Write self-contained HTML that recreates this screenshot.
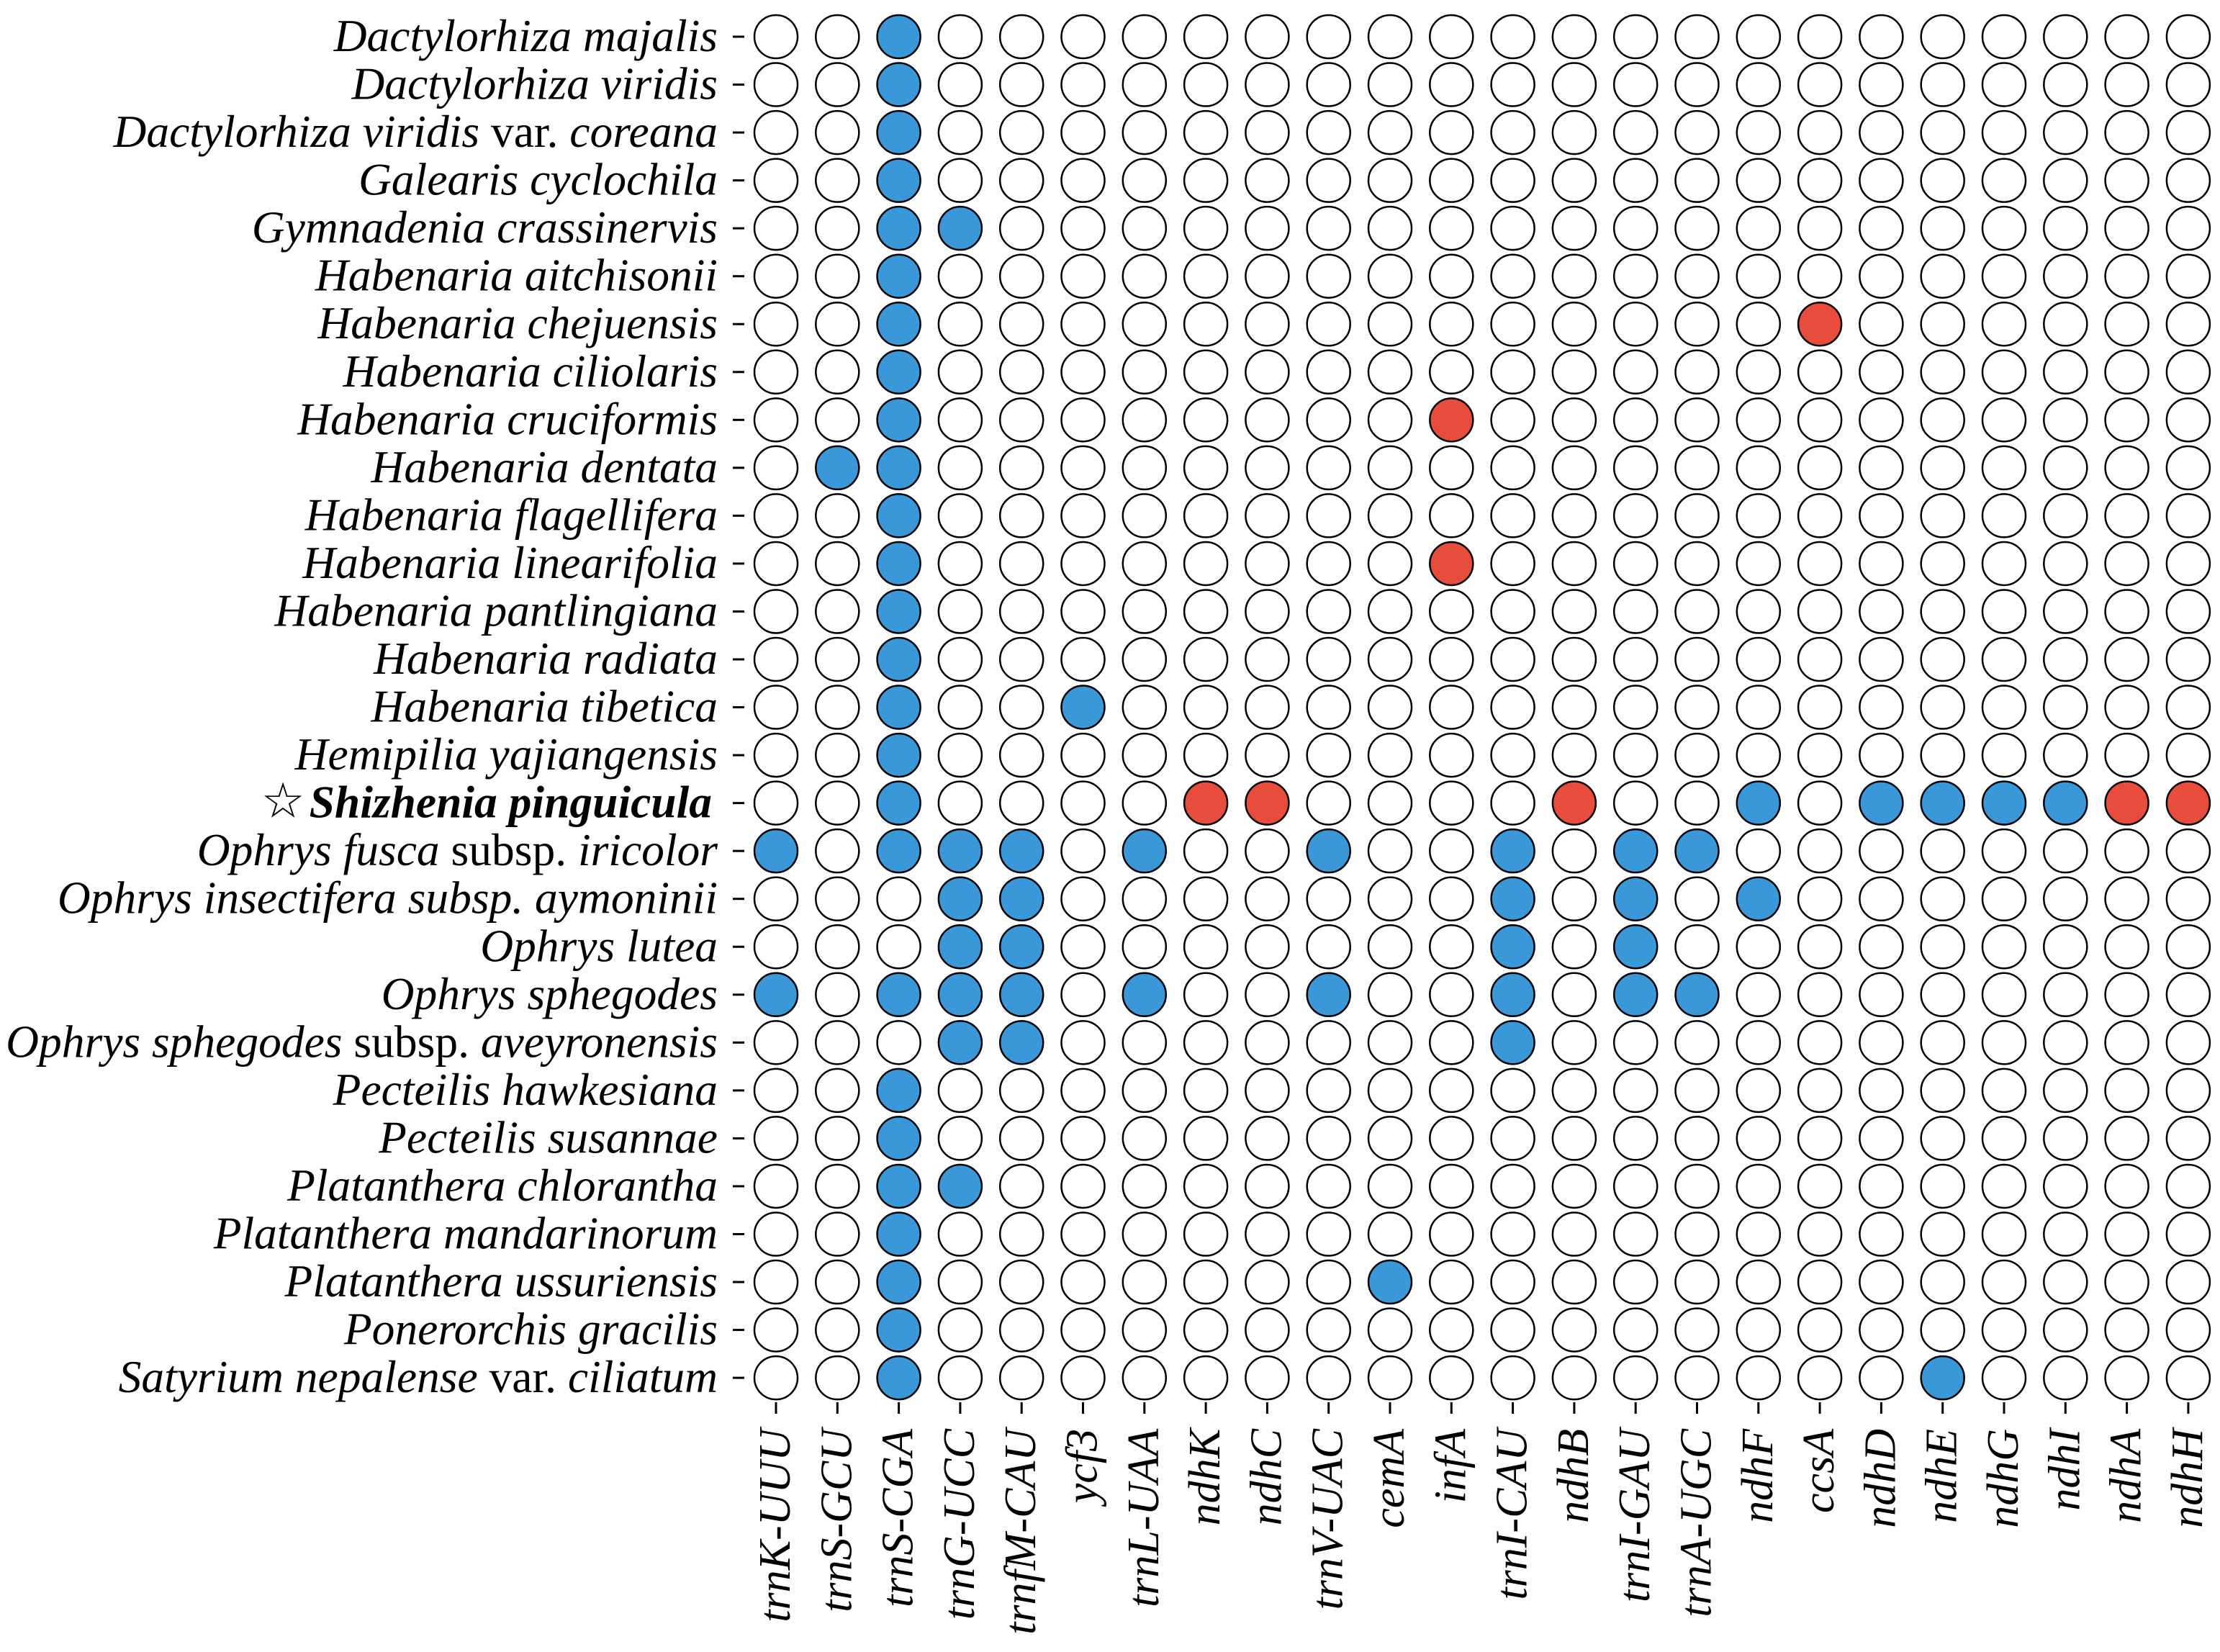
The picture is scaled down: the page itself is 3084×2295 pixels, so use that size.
<!DOCTYPE html>
<html><head><meta charset="utf-8"><style>
html,body{margin:0;padding:0;background:#fff;}
svg{display:block;font-family:"Liberation Serif","DejaVu Serif",serif;}
</style></head><body>
<svg id="chart" width="3084" height="2295" viewBox="0 0 3084 2295" xmlns="http://www.w3.org/2000/svg"></svg>
<script>
const genes = ["trnK-UUU","trnS-GCU","trnS-CGA","trnG-UCC","trnfM-CAU","ycf3","trnL-UAA","ndhK","ndhC","trnV-UAC","cemA","infA","trnI-CAU","ndhB","trnI-GAU","trnA-UGC","ndhF","ccsA","ndhD","ndhE","ndhG","ndhI","ndhA","ndhH"];
const species = [
 [["Dactylorhiza majalis",1]],
 [["Dactylorhiza viridis",1]],
 [["Dactylorhiza viridis",1],[" var. ",0],["coreana",1]],
 [["Galearis cyclochila",1]],
 [["Gymnadenia crassinervis",1]],
 [["Habenaria aitchisonii",1]],
 [["Habenaria chejuensis",1]],
 [["Habenaria ciliolaris",1]],
 [["Habenaria cruciformis",1]],
 [["Habenaria dentata",1]],
 [["Habenaria flagellifera",1]],
 [["Habenaria linearifolia",1]],
 [["Habenaria pantlingiana",1]],
 [["Habenaria radiata",1]],
 [["Habenaria tibetica",1]],
 [["Hemipilia yajiangensis",1]],
 [["☆",2],["Shizhenia pinguicula",3]],
 [["Ophrys fusca",1],[" subsp. ",0],["iricolor",1]],
 [["Ophrys insectifera subsp. aymoninii",1]],
 [["Ophrys lutea",1]],
 [["Ophrys sphegodes",1]],
 [["Ophrys sphegodes",1],["  subsp. ",0],["aveyronensis",1]],
 [["Pecteilis hawkesiana",1]],
 [["Pecteilis susannae",1]],
 [["Platanthera chlorantha",1]],
 [["Platanthera mandarinorum",1]],
 [["Platanthera ussuriensis",1]],
 [["Ponerorchis gracilis",1]],
 [["Satyrium nepalense",1],[" var. ",0],["ciliatum",1]]
];
// status per row, one char per gene: . = none, B = blue, R = red
const status = [
 "..B.....................",
 "..B.....................",
 "..B.....................",
 "..B.....................",
 "..BB....................",
 "..B.....................",
 "..B..............R......",
 "..B.....................",
 "..B........R............",
 ".BB.....................",
 "..B.....................",
 "..B........R............",
 "..B.....................",
 "..B.....................",
 "..B..B..................",
 "..B.....................",
 "..B....RR....R..B.BBBBRR",
 "B.BBB.B..B..B.BB........",
 "...BB.......B.B.B.......",
 "...BB.......B.B.........",
 "B.BBB.B..B..B.BB........",
 "...BB.......B...........",
 "..B.....................",
 "..B.....................",
 "..BB....................",
 "..B.....................",
 "..B.......B.............",
 "..B.....................",
 "..B................B...."
];
const NS="http://www.w3.org/2000/svg";
const svg=document.getElementById('chart');
const x0=1078, dx=85.3, y0=51, dy=66.54, r=30;
const xPos=i=>x0+i*dx, yPos=j=>y0+j*dy;
const colors={".":"#ffffff","B":"#3a98d8","R":"#e74c3c"};
function mk(t,a){const e=document.createElementNS(NS,t);for(const k in a)e.setAttribute(k,a[k]);return e;}
species.forEach((parts,j)=>{
  const y=yPos(j);
  const t=mk('text',{x:997,y:y+20,'text-anchor':'end','font-size':63.5});
  
  
  parts.forEach(p=>{
    const s=document.createElementNS(NS,'tspan');
    s.textContent=p[0];
    if(p[1]===1||p[1]===3)s.setAttribute('font-style','italic');
    if(p[1]===3)s.setAttribute('font-weight','bold');
    if(p[1]===2){s.setAttribute('font-family','DejaVu Sans, sans-serif');s.setAttribute('font-size','68');s.setAttribute('font-weight','bold');s.setAttribute('dx','-8');}
    if(p[1]===3)s.setAttribute('dx','6');
    t.appendChild(s);
  });
  svg.appendChild(t);
  const tk=mk('line',{x1:1018,x2:1034,y1:y,y2:y,stroke:'#000','stroke-width':3});
  
  
  svg.appendChild(tk);
  genes.forEach((g,i)=>{
    const c=mk('circle',{cx:xPos(i),cy:y,r:r,fill:colors[status[j][i]],stroke:'#000','stroke-width':2.5});
    
    
    svg.appendChild(c);
  });
});
genes.forEach((g,i)=>{
  const x=xPos(i);
  const tk=mk('line',{x1:x,x2:x,y1:1948,y2:1964,stroke:'#000','stroke-width':3});
  
  
  svg.appendChild(tk);
  const t=mk('text',{transform:`translate(${x+19},1985) rotate(-90)`,'text-anchor':'end','font-size':62,'font-style':'italic'});
  t.textContent=g;
  
  
  svg.appendChild(t);
});
</script>
</body></html>
